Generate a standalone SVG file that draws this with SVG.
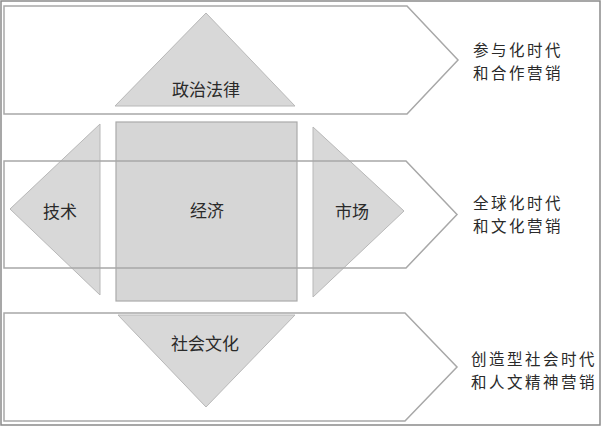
<svg xmlns="http://www.w3.org/2000/svg" width="602" height="427" viewBox="0 0 602 427">
<style>
.bg{fill:#ffffff;stroke:#8a8a8a;stroke-width:1.5}
.arrow{fill:none;stroke:#a8a8a8;stroke-width:1.5}
.arrowfill{fill:#ffffff;stroke:none}
.shape{fill:#d8d8d8;stroke:#b8b8b8;stroke-width:1}
.sq{fill:#d6d6d6;stroke:#aaaaaa;stroke-width:1.2}
.lbl{font-family:"Noto Sans CJK SC","Noto Sans",sans-serif;font-size:17px;fill:#2a2a2a;text-anchor:middle;dominant-baseline:central}
.side{font-family:"Noto Sans CJK SC","Noto Sans",sans-serif;font-size:15.5px;fill:#2a2a2a;text-anchor:start;dominant-baseline:central;letter-spacing:2.5px}
</style>
<rect class="bg" x="1" y="1" width="599" height="424"/>
<g id="arrows-fill">
<polygon class="arrowfill" points="4,6 407,6 458,60 407,114 4,114"/>
<polygon class="arrowfill" points="4,161 406,161 457,214.5 406,268 4,268"/>
<polygon class="arrowfill" points="4,313 405,313 457,367 405,421 4,421"/>
</g>
<g id="node-zhengzhi">
<polygon class="shape" points="206,13 295,106 115,106"/>
<text class="lbl" x="206" y="88">政治法律</text>
</g>
<g id="node-jishu">
<polygon class="shape" points="100,124 100,295 10,209"/>
</g>
<g id="node-jingji">
<rect class="sq" x="116" y="122" width="181" height="179"/>
</g>
<g id="node-shichang">
<polygon class="shape" points="313,127 404,211 313,297"/>
</g>
<g id="node-shehui">
<polygon class="shape" points="118,315 295,315 206,407"/>
<text class="lbl" x="205" y="342">社会文化</text>
</g>
<g id="connectors">
<polygon class="arrow" points="4,6 407,6 458,60 407,114 4,114"/>
<polygon class="arrow" points="4,161 406,161 457,214.5 406,268 4,268"/>
<polygon class="arrow" points="4,313 405,313 457,367 405,421 4,421"/>
</g>
<g id="labels-mid">
<text class="lbl" x="60" y="210">技术</text>
<text class="lbl" x="207" y="209">经济</text>
<text class="lbl" x="352" y="210">市场</text>
</g>
<g id="side-texts">
<text class="side" x="473" y="49">参与化时代</text>
<text class="side" x="473" y="72">和合作营销</text>
<text class="side" x="473" y="202">全球化时代</text>
<text class="side" x="473" y="225">和文化营销</text>
<text class="side" x="471" y="358">创造型社会时代</text>
<text class="side" x="471" y="381">和人文精神营销</text>
</g>
</svg>
